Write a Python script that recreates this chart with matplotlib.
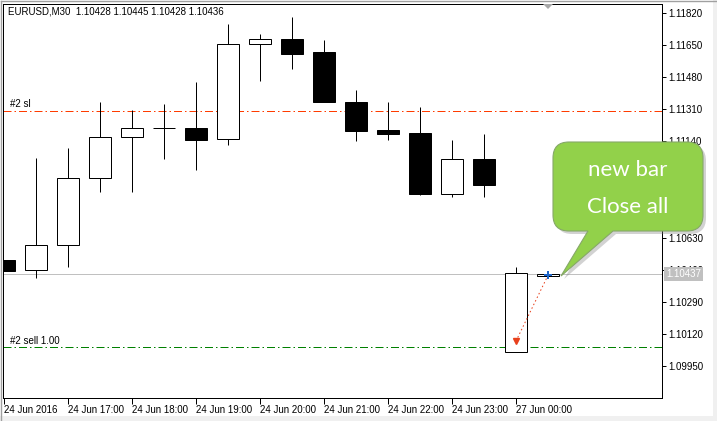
import matplotlib
matplotlib.use("Agg")
import matplotlib.pyplot as plt
from matplotlib.patches import Rectangle, PathPatch, Polygon
from matplotlib.path import Path
import matplotlib.transforms as mtransforms

# ---- data ----
bar_times = ["24 Jun 16:00", "24 Jun 16:30", "24 Jun 17:00", "24 Jun 17:30", "24 Jun 18:00",
             "24 Jun 18:30", "24 Jun 19:00", "24 Jun 19:30", "24 Jun 20:00", "24 Jun 20:30",
             "24 Jun 21:00", "24 Jun 21:30", "24 Jun 22:00", "24 Jun 22:30", "24 Jun 23:00",
             "24 Jun 23:30", "27 Jun 00:00", "27 Jun 00:30"]
opens  = [1.10511, 1.10458, 1.10590, 1.10945, 1.11162, 1.11210, 1.11210, 1.11152, 1.11654,
          1.11681, 1.11612, 1.11347, 1.11199, 1.11183, 1.10860, 1.11046, 1.10024, 1.10428]
highs  = [1.10511, 1.11051, 1.11104, 1.11347, 1.11305, 1.11337, 1.11453, 1.11760, 1.11707,
          1.11797, 1.11675, 1.11411, 1.11347, 1.11321, 1.11146, 1.11178, 1.10474, 1.10445]
lows   = [1.10455, 1.10416, 1.10474, 1.10871, 1.10871, 1.11046, 1.10987, 1.11120, 1.11459,
          1.11522, 1.11347, 1.11141, 1.11146, 1.10855, 1.10845, 1.10845, 1.10024, 1.10428]
closes = [1.10455, 1.10590, 1.10945, 1.11162, 1.11210, 1.11210, 1.11146, 1.11654, 1.11681,
          1.11601, 1.11347, 1.11194, 1.11178, 1.10860, 1.11046, 1.10908, 1.10442, 1.10436]

x_tick_pos = [0, 2, 4, 6, 8, 10, 12, 14, 16]
x_tick_labels = ["24 Jun 2016", "24 Jun 17:00", "24 Jun 18:00", "24 Jun 19:00", "24 Jun 20:00",
                 "24 Jun 21:00", "24 Jun 22:00", "24 Jun 23:00", "27 Jun 00:00"]
price_ticks = [1.09950, 1.10120, 1.10290, 1.10460, 1.10630, 1.10800, 1.10970,
               1.11140, 1.11310, 1.11480, 1.11650, 1.11820]

title_text = "EURUSD,M30  1.10428 1.10445 1.10428 1.10436"
sl_price = 1.11300
sell_price = 1.10050
bid_price = 1.10437
trade_open_idx, trade_open_price = 16, 1.10082
trade_close_idx, trade_close_price = 17, 1.10430

FONT = "Liberation Sans"
W, H = 717, 421

fig = plt.figure(figsize=(W / 100, H / 100), dpi=100)
fig.patch.set_facecolor("white")
ax = fig.add_axes([3 / W, 1 - 398 / H, (662 - 3) / W, (398 - 4) / H])
ax.set_facecolor("white")
ax.set_xlim(-0.03125, 20.5625)
ax.set_ylim(1.097806, 1.118660)

px = 0.72  # 1 pixel in points
body_w = 0.66

for i, (o, h, l, c) in enumerate(zip(opens, highs, lows, closes)):
    ax.plot([i, i], [l, h], color="black", lw=px, solid_capstyle="butt", zorder=3)
    bottom = min(o, c)
    height = abs(c - o)
    fc = "white" if c >= o else "black"
    ax.add_patch(Rectangle((i - body_w / 2, bottom), body_w, height, facecolor=fc,
                           edgecolor="black", lw=px, zorder=4))

# horizontal lines
ax.axhline(bid_price, color="#C0C0C0", lw=px, zorder=2)
ax.axhline(sl_price, color="#FF3C00", lw=px, dashes=(8, 3, 1.5, 3), zorder=2)
ax.axhline(sell_price, color="#008000", lw=px, dashes=(8, 3, 1.5, 3), zorder=2)

lbl_tr = mtransforms.blended_transform_factory(ax.transAxes, ax.transData)
up = mtransforms.offset_copy(lbl_tr, fig=fig, x=0, y=1.5, units="dots")
ax.text(7 / 659, sl_price, "#2 sl", transform=up, ha="left", va="bottom",
        fontsize=7, family=FONT, color="black")
ax.text(7 / 659, sell_price, "#2 sell 1.00", transform=up, ha="left", va="bottom",
        fontsize=7, family=FONT, color="black")

# trade line and markers
ax.plot([trade_open_idx, trade_close_idx], [trade_open_price, trade_close_price],
        color="#E8401C", lw=px, dashes=(1.5, 2.5), zorder=5)
ax.plot([trade_open_idx], [trade_open_price], marker="v", color="#E8401C", ms=5, zorder=6)
ax.plot([trade_close_idx], [trade_close_price], marker="P", color="#1E64C8", ms=6,
        markeredgewidth=0, zorder=6)

# axes styling
for s in ax.spines.values():
    s.set_color("black")
    s.set_linewidth(px)
ax.yaxis.tick_right()
ax.set_yticks(price_ticks)
ax.set_yticklabels([f"{p:.5f}" for p in price_ticks])
ax.set_xticks(x_tick_pos)
ax.set_xticklabels(x_tick_labels)
ax.tick_params(axis="y", direction="out", length=3, width=px, pad=1.5,
               labelsize=7, colors="black")
ax.tick_params(axis="x", direction="out", length=4.3, width=px, pad=1,
               labelsize=7, colors="black")
for t in ax.get_xticklabels():
    t.set_ha("left")
    t.set_family(FONT)
for t in ax.get_yticklabels():
    t.set_family(FONT)

# bid label
bid_tr = mtransforms.offset_copy(lbl_tr, fig=fig, x=4, y=0, units="dots")
ax.text(1.0, bid_price, "1.10437", transform=bid_tr, ha="left", va="center", fontsize=7,
        family=FONT, color="white", clip_on=False, zorder=10,
        bbox=dict(boxstyle="square,pad=0.2", fc="#C0C0C0", ec="none"))

# title
ax.text(5 / 659, 1 - 8 / 394, title_text, transform=ax.transAxes, ha="left", va="center",
        fontsize=7, family=FONT, color="black")

# ---- overlay (pixel coordinates) for callout ----
ov = fig.add_axes([0, 0, 1, 1], zorder=5)
ov.set_xlim(0, W)
ov.set_ylim(H, 0)
ov.axis("off")
ov.patch.set_alpha(0)

L, R, T, B, r = 553, 703, 142, 231, 16
tip = (561, 276)
verts = [(L + r, T), (R - r, T), (R, T), (R, T + r), (R, B - r), (R, B), (R - r, B),
         (613, B), tip, (588, B), (L + r, B), (L, B), (L, B - r), (L, T + r), (L, T),
         (L + r, T), (L + r, T)]
codes = [Path.MOVETO, Path.LINETO, Path.CURVE3, Path.CURVE3, Path.LINETO, Path.CURVE3,
         Path.CURVE3, Path.LINETO, Path.LINETO, Path.LINETO, Path.LINETO, Path.CURVE3,
         Path.CURVE3, Path.LINETO, Path.CURVE3, Path.CURVE3, Path.CLOSEPOLY]
callout = Path(verts, codes)
shadow = Path([(x + 3, y + 3) for x, y in verts], codes)
ov.add_patch(PathPatch(shadow, fc="#808080", ec="none", alpha=0.35))
ov.add_patch(PathPatch(callout, fc="#92D14A", ec="#86A868", lw=0.8))
ov.text(628, 170, "new bar", color="white", fontsize=16, family="Lato",
        fontweight="normal", ha="center", va="center")
ov.text(628, 207, "Close all", color="white", fontsize=16, family="Lato",
        fontweight="normal", ha="center", va="center")

# chart shift marker
ov.add_patch(Polygon([(543, 4), (553, 4), (548, 9)], closed=True, fc="#A8A8A8", ec="none"))

# window border
ov.plot([0.5, W - 0.5], [0.5, 0.5], color="#A0A0A0", lw=1)
ov.plot([0.5, 0.5], [0.5, H - 0.5], color="#A0A0A0", lw=1)
ov.add_patch(Rectangle((713, 0), 4, H, fc="#F0F0F0", ec="none"))
ov.add_patch(Rectangle((0, 416), W, 5, fc="#F0F0F0", ec="none"))

fig.savefig("out.png", dpi=100, facecolor=fig.get_facecolor())
